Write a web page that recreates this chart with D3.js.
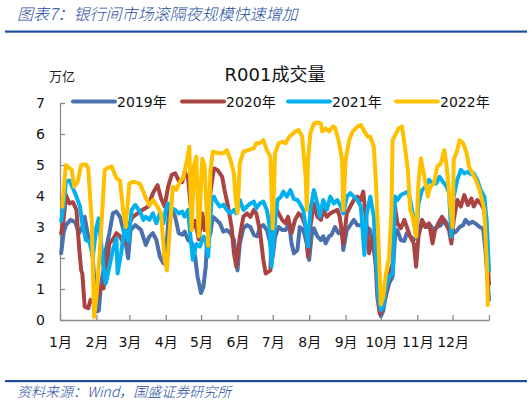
<!DOCTYPE html>
<html><head><meta charset="utf-8">
<script src="https://cdn.jsdelivr.net/npm/d3@7"></script>
<style>
html,body{margin:0;padding:0;background:#fff;}
svg{display:block;}
</style></head>
<body>
<svg id="chart" width="532" height="403"></svg>
<script>
// ---- data (day of year, value in 万亿) ----
const monthStarts = [0,31,59,90,120,151,181,212,243,273,304,334,365];
const monthLabels = ["1月","2月","3月","4月","5月","6月","7月","8月","9月","10月","11月","12月"];
const yTicks = [0,1,2,3,4,5,6,7];
const seriesNames = ["2019年","2020年","2021年","2022年"];
const seriesColors = ["#4A70AE","#AA4442","#00B0F0","#FFC000"];

const s2019 = [[1,2.15],[3,2.8],[5,3.06],[9,3.23],[13,3.15],[16,2.8],[19,3.0],[21,3.33],[24,2.69],[27,2.47],[29,1.4],[31,0.27],[33,0.3],[35,1.18],[37,1.6],[39,2.26],[42,2.8],[45,3.44],[48,3.5],[51,3.33],[54,2.9],[56,2.47],[58,1.99],[60,2.9],[64,3.06],[66,3.0],[69,2.9],[73,2.42],[76,2.69],[79,2.8],[82,2.58],[85,2.04],[88,1.83],[91,2.58],[93,3.66],[95,3.55],[98,3.33],[101,2.8],[104,2.75],[106,2.85],[109,2.58],[112,2.5],[115,2.04],[117,1.4],[120,0.87],[122,1.07],[124,1.72],[125,2.47],[128,2.8],[130,3.33],[133,3.23],[136,3.12],[139,2.85],[142,2.9],[145,2.8],[148,2.58],[150,1.94],[151,1.6],[153,2.47],[156,2.96],[159,3.06],[162,3.0],[165,2.74],[168,2.7],[170,3.0],[173,3.06],[176,2.9],[179,2.47],[181,2.04],[183,2.69],[186,3.0],[189,2.9],[192,2.9],[195,3.1],[197,2.47],[199,2.15],[202,2.26],[204,3.0],[207,2.9],[210,2.47],[212,1.94],[214,2.69],[216,2.96],[219,2.7],[222,2.58],[224,2.7],[226,2.47],[229,2.7],[231,2.74],[234,3.0],[237,2.8],[240,2.9],[241,2.26],[244,2.9],[247,3.06],[250,3.23],[253,3.06],[256,3.06],[258,3.06],[261,3.0],[264,2.9],[267,2.26],[270,1.4],[272,0.4],[273,0.12],[275,0.3],[277,0.75],[280,1.18],[283,1.4],[285,2.69],[287,2.9],[290,2.58],[293,2.55],[295,2.8],[298,2.7],[301,2.6],[304,2.69],[307,3.0],[310,3.1],[313,3.0],[315,3.06],[318,2.9],[321,3.0],[324,3.06],[327,3.23],[330,3.06],[332,2.9],[334,2.8],[337,2.85],[340,3.0],[343,3.06],[345,3.23],[348,3.1],[351,3.17],[354,3.1],[357,3.0],[360,2.95],[362,2.26],[364,1.18],[365,0.65]];

const s2020 = [[1,2.8],[3,3.2],[5,4.03],[8,3.76],[11,3.8],[14,3.55],[16,2.47],[18,1.6],[19,1.5],[21,0.43],[24,0.38],[26,0.65],[29,0.54],[32,0.75],[35,1.07],[37,1.02],[40,1.83],[42,2.47],[45,2.6],[48,2.8],[51,2.7],[54,2.47],[56,2.47],[59,3.12],[62,3.33],[66,3.44],[70,3.55],[75,3.66],[79,4.09],[83,4.35],[86,3.92],[89,3.66],[92,4.3],[95,4.68],[98,4.73],[101,4.5],[104,4.45],[106,4.78],[109,4.55],[113,3.0],[115,3.2],[118,2.6],[121,3.44],[123,2.9],[126,3.55],[129,4.4],[131,4.89],[134,4.84],[138,4.62],[140,4.19],[143,3.66],[146,3.0],[148,2.15],[150,1.72],[153,2.69],[156,3.33],[159,3.44],[162,3.33],[165,3.55],[167,3.44],[170,2.9],[173,1.94],[175,1.5],[179,1.6],[181,3.77],[183,3.66],[186,3.44],[189,3.23],[192,3.12],[194,3.33],[197,2.8],[200,3.23],[203,3.44],[206,3.33],[209,3.0],[211,2.04],[213,3.0],[216,3.76],[219,3.33],[222,3.23],[224,3.55],[227,3.33],[230,3.44],[233,3.5],[236,3.55],[238,3.33],[241,2.47],[244,3.44],[247,3.66],[250,3.87],[253,3.98],[256,3.87],[258,4.14],[261,3.0],[263,2.15],[266,2.69],[268,2.26],[270,0.75],[272,0.2],[274,0.35],[277,0.75],[280,1.4],[283,1.83],[285,3.66],[287,3.12],[290,2.96],[293,3.23],[296,2.9],[298,2.69],[301,2.47],[303,1.72],[305,2.69],[308,3.23],[311,3.0],[314,3.12],[317,2.47],[319,2.9],[322,3.12],[325,3.33],[328,3.12],[331,2.9],[333,2.47],[335,3.23],[338,3.87],[341,3.66],[344,4.03],[347,3.71],[350,3.92],[352,3.66],[355,3.87],[358,3.76],[361,3.55],[363,2.47],[365,1.15]];

const s2021 = [[1,3.2],[3,3.66],[5,4.46],[8,4.5],[11,4.25],[14,3.98],[17,3.66],[19,3.1],[22,2.58],[25,2.53],[28,2.04],[31,3.0],[33,3.28],[35,2.47],[37,1.72],[39,1.18],[42,1.72],[45,2.26],[48,2.63],[49,1.5],[52,2.15],[55,3.0],[58,2.53],[61,3.55],[64,3.71],[68,3.5],[71,3.23],[73,3.33],[76,3.23],[79,3.44],[82,3.12],[85,3.44],[88,3.12],[90,3.55],[92,3.76],[95,3.6],[98,3.55],[101,3.44],[104,3.5],[106,3.33],[109,3.55],[111,2.69],[113,1.94],[116,2.45],[119,2.37],[122,2.69],[124,2.6],[126,2.04],[129,3.87],[131,3.98],[133,3.82],[136,3.66],[139,3.72],[142,3.55],[145,3.44],[148,3.55],[150,3.44],[153,3.87],[156,3.55],[159,3.66],[162,3.76],[165,3.82],[167,3.6],[170,3.76],[173,3.82],[176,3.55],[178,3.12],[180,1.72],[182,2.8],[185,3.87],[188,3.98],[190,4.14],[193,3.98],[196,4.19],[199,3.9],[202,3.87],[204,3.76],[207,3.55],[209,3.0],[211,2.37],[213,3.55],[216,4.19],[219,3.76],[221,3.33],[224,3.87],[227,3.55],[230,3.98],[233,3.76],[236,3.87],[239,3.66],[241,3.44],[244,3.98],[247,4.09],[250,3.98],[253,3.87],[256,3.66],[259,2.1],[261,3.44],[264,3.98],[267,3.33],[269,1.94],[271,0.64],[273,0.32],[275,0.45],[277,0.97],[280,1.4],[283,1.5],[285,3.98],[287,3.87],[290,4.03],[293,4.09],[296,4.14],[298,3.87],[301,3.23],[303,2.69],[305,3.76],[308,4.19],[311,4.3],[314,4.52],[317,4.4],[320,4.4],[323,4.62],[326,4.45],[329,4.3],[331,4.09],[333,2.69],[335,3.98],[338,4.52],[341,4.84],[344,4.73],[347,4.78],[350,4.7],[352,4.73],[355,4.52],[358,4.19],[361,3.98],[363,3.23],[365,1.6]];

const s2022 = [[2,3.66],[5,5.0],[10,4.84],[12,4.3],[15,4.46],[18,5.0],[22,5.02],[24,4.9],[27,3.2],[29,0.1],[31,0.75],[34,2.26],[38,4.84],[40,4.9],[44,4.95],[48,4.57],[51,4.5],[54,3.44],[56,3.0],[59,4.4],[62,4.46],[68,4.4],[72,4.03],[76,3.7],[79,3.87],[83,3.66],[86,3.44],[89,1.94],[91,1.6],[94,3.23],[96,4.3],[99,4.2],[102,4.46],[105,4.6],[108,5.16],[110,5.59],[112,2.9],[114,5.0],[116,5.27],[118,2.7],[121,5.2],[123,5.0],[126,2.4],[128,4.8],[130,5.43],[135,5.38],[139,5.38],[142,5.48],[145,5.16],[148,4.73],[149,4.09],[151,3.45],[153,5.05],[156,5.43],[160,5.48],[165,5.54],[167,5.7],[170,5.7],[173,5.8],[176,5.48],[179,5.27],[181,2.95],[183,5.38],[186,5.7],[189,5.75],[192,5.7],[195,5.91],[197,5.97],[200,6.08],[203,6.13],[206,5.91],[209,4.62],[210,3.55],[211,5.16],[213,6.02],[216,6.34],[219,6.37],[222,6.34],[223,6.08],[226,6.18],[229,6.08],[232,6.24],[234,6.2],[237,5.8],[240,5.16],[241,3.55],[243,5.16],[246,5.8],[249,6.08],[253,6.24],[256,6.29],[259,6.08],[262,5.91],[264,5.91],[267,5.59],[269,4.3],[271,2.47],[273,0.5],[275,0.75],[277,1.4],[280,2.04],[282,3.55],[283,5.8],[286,6.02],[288,6.18],[291,6.24],[293,5.7],[296,4.84],[298,3.55],[300,3.33],[303,2.69],[305,4.4],[307,5.22],[310,4.62],[313,3.98],[315,4.3],[318,4.4],[321,4.95],[324,5.05],[327,5.48],[329,4.95],[331,4.09],[334,3.0],[335,5.16],[338,5.48],[340,5.8],[343,5.7],[346,5.38],[348,4.95],[351,4.73],[354,4.5],[357,4.19],[359,3.87],[361,3.55],[363,1.94],[364,0.48]];

const allSeries = [s2019, s2020, s2021, s2022];

// ---- drawing ----
const svg = d3.select("#chart");
const blue = "#1F4E9E";
const cjk = "'Noto Sans CJK SC','DejaVu Sans',sans-serif";
const latin = "'DejaVu Sans','Noto Sans CJK SC',sans-serif";

// header
svg.append("text").attr("x",17).attr("y",19.5)
  .attr("font-family",cjk).attr("font-size",16).attr("font-style","italic").attr("font-weight",300)
  .attr("fill",blue).text("图表7：银行间市场滚隔夜规模快速增加");
svg.append("rect").attr("x",5).attr("y",30.5).attr("width",522).attr("height",2.2).attr("fill",blue);
// footer
svg.append("rect").attr("x",5).attr("y",380).attr("width",522).attr("height",2.2).attr("fill",blue);
svg.append("text").attr("x",17).attr("y",397)
  .attr("font-family",cjk).attr("font-size",14).attr("font-style","italic").attr("font-weight",300)
  .attr("fill",blue).text("资料来源：Wind，国盛证券研究所");

const x = d3.scaleLinear().domain([0,365]).range([60,489]);
const y = d3.scaleLinear().domain([0,7]).range([320,103]);

// title & unit
svg.append("text").attr("x",275).attr("y",81).attr("text-anchor","middle")
  .attr("font-family",latin).attr("font-size",18).attr("fill","#111").text("R001成交量");
svg.append("text").attr("x",62).attr("y",81).attr("text-anchor","middle")
  .attr("font-family",cjk).attr("font-size",13).attr("fill","#222").text("万亿");

// axes
const axisColor = "#8C8C8C";
const xAxis = svg.append("g").attr("transform",`translate(0,${y(0)})`)
  .call(d3.axisBottom(x).tickValues(monthStarts).tickSizeInner(-5).tickSizeOuter(0).tickPadding(17)
    .tickFormat((d,i)=> i < monthLabels.length ? monthLabels[i] : ""));
const yAxis = svg.append("g").attr("transform",`translate(${x(0)},0)`)
  .call(d3.axisLeft(y).tickValues(yTicks).tickSizeInner(-5).tickSizeOuter(0).tickPadding(15)
    .tickFormat(d3.format("d")));
[xAxis,yAxis].forEach(g=>{
  g.select(".domain").attr("stroke",axisColor).attr("stroke-width",1.3);
  g.selectAll(".tick line").attr("stroke",axisColor).attr("stroke-width",1.3);
  g.selectAll(".tick text").attr("fill","#111").attr("font-size",14).attr("font-family",latin);
});

// lines
const line = d3.line().x(d=>x(d[0])).y(d=>y(d[1]));
svg.append("g").selectAll("path").data(allSeries).join("path")
  .attr("d",line).attr("fill","none")
  .attr("stroke",(d,i)=>seriesColors[i]).attr("stroke-width",4)
  .attr("stroke-linejoin","round").attr("stroke-linecap","round");

// legend
const legendX = [73,182,288,396];
const lg = svg.append("g").selectAll("g").data(seriesNames).join("g")
  .attr("transform",(d,i)=>`translate(${legendX[i]},101.5)`);
lg.append("line").attr("x1",0).attr("x2",42).attr("y1",0).attr("y2",0)
  .attr("stroke",(d,i)=>seriesColors[i]).attr("stroke-width",4).attr("stroke-linecap","round");
lg.append("text").attr("x",44).attr("y",5).attr("font-family",latin).attr("font-size",14)
  .attr("fill","#111").text(d=>d);
</script>
</body></html>
